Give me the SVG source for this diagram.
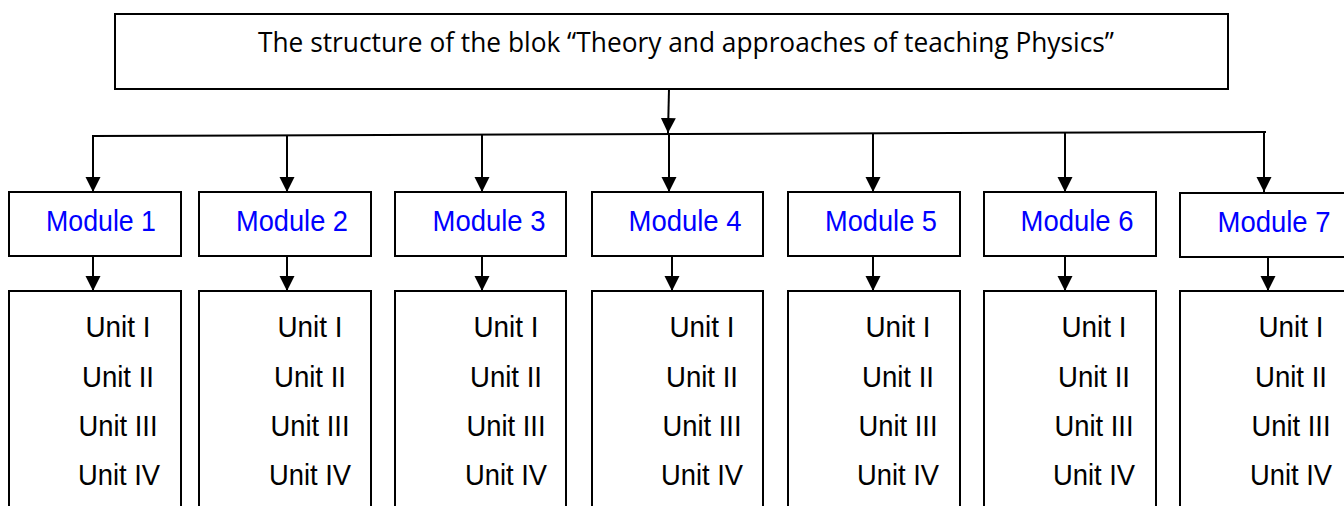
<svg xmlns="http://www.w3.org/2000/svg" width="1344" height="506" viewBox="0 0 1344 506">
<style>
.box{fill:#fff;stroke:#000;stroke-width:2}
.ln{fill:none;stroke:#000;stroke-width:2}
.arr{fill:none;stroke:#000;stroke-width:2;marker-end:url(#ah)}
.title{font-family:"Open Sans","Liberation Sans",sans-serif;font-size:28px;fill:#000}
.mod{font-family:"Liberation Sans",Arial,sans-serif;font-size:29px;fill:#0000ff;text-anchor:middle}
.unit{font-family:"Liberation Sans",Arial,sans-serif;font-size:29px;fill:#000;text-anchor:middle}
</style>
<defs>
<marker id="ah" viewBox="0 0 16 16" refX="15" refY="8" markerWidth="16" markerHeight="16" markerUnits="userSpaceOnUse" orient="auto">
<path d="M0,0.5 L15,8 L0,15.5 z" fill="#000"/>
</marker>
</defs>
<rect width="1344" height="506" fill="#fff"/>
<g id="title-node">
<rect class="box" x="115" y="14" width="1113" height="75"/>
<text class="title" x="258" y="52" textLength="856" lengthAdjust="spacingAndGlyphs">The structure of the blok “Theory and approaches of teaching Physics”</text>
</g>
<g id="connectors">
<line class="arr" x1="669" y1="89" x2="668" y2="133"/>
<line class="ln" x1="92" y1="136" x2="1266" y2="132"/>
<line class="arr" x1="93" y1="136" x2="93" y2="192"/>
<line class="arr" x1="287" y1="135" x2="287" y2="192"/>
<line class="arr" x1="482" y1="135" x2="482" y2="192"/>
<line class="arr" x1="669" y1="134" x2="669" y2="192"/>
<line class="arr" x1="873" y1="134" x2="873" y2="192"/>
<line class="arr" x1="1065" y1="133" x2="1065" y2="192"/>
<line class="arr" x1="1264" y1="132" x2="1264" y2="192"/>
<line class="arr" x1="93" y1="256" x2="93" y2="291"/>
<line class="arr" x1="287" y1="256" x2="287" y2="291"/>
<line class="arr" x1="482" y1="256" x2="482" y2="291"/>
<line class="arr" x1="672" y1="256" x2="672" y2="291"/>
<line class="arr" x1="873" y1="256" x2="873" y2="291"/>
<line class="arr" x1="1065" y1="256" x2="1065" y2="291"/>
<line class="arr" x1="1268" y1="257" x2="1268" y2="291"/>
</g>
<g id="module1">
<rect class="box" x="9" y="192" width="172" height="64"/>
<text class="mod" x="101" y="231" textLength="110" lengthAdjust="spacingAndGlyphs">Module 1</text>
</g>
<g id="module2">
<rect class="box" x="199" y="192" width="172" height="64"/>
<text class="mod" x="292" y="231" textLength="112" lengthAdjust="spacingAndGlyphs">Module 2</text>
</g>
<g id="module3">
<rect class="box" x="395" y="192" width="171" height="64"/>
<text class="mod" x="489" y="231" textLength="113" lengthAdjust="spacingAndGlyphs">Module 3</text>
</g>
<g id="module4">
<rect class="box" x="592" y="192" width="171" height="64"/>
<text class="mod" x="685" y="231" textLength="113" lengthAdjust="spacingAndGlyphs">Module 4</text>
</g>
<g id="module5">
<rect class="box" x="788" y="192" width="172" height="64"/>
<text class="mod" x="881" y="231" textLength="112" lengthAdjust="spacingAndGlyphs">Module 5</text>
</g>
<g id="module6">
<rect class="box" x="984" y="192" width="172" height="64"/>
<text class="mod" x="1077" y="231" textLength="113" lengthAdjust="spacingAndGlyphs">Module 6</text>
</g>
<g id="module7">
<rect class="box" x="1180" y="193" width="180" height="64"/>
<text class="mod" x="1274" y="232" textLength="113" lengthAdjust="spacingAndGlyphs">Module 7</text>
</g>
<g id="units1">
<rect class="box" x="9" y="291" width="172" height="230"/>
<text class="unit" x="118" y="337" textLength="65" lengthAdjust="spacingAndGlyphs">Unit I</text>
<text class="unit" x="118" y="387" textLength="72" lengthAdjust="spacingAndGlyphs">Unit II</text>
<text class="unit" x="118" y="436" textLength="79" lengthAdjust="spacingAndGlyphs">Unit III</text>
<text class="unit" x="119" y="485" textLength="82" lengthAdjust="spacingAndGlyphs">Unit IV</text>
</g>
<g id="units2">
<rect class="box" x="199" y="291" width="172" height="230"/>
<text class="unit" x="310" y="337" textLength="65" lengthAdjust="spacingAndGlyphs">Unit I</text>
<text class="unit" x="310" y="387" textLength="72" lengthAdjust="spacingAndGlyphs">Unit II</text>
<text class="unit" x="310" y="436" textLength="79" lengthAdjust="spacingAndGlyphs">Unit III</text>
<text class="unit" x="310" y="485" textLength="82" lengthAdjust="spacingAndGlyphs">Unit IV</text>
</g>
<g id="units3">
<rect class="box" x="395" y="291" width="171" height="230"/>
<text class="unit" x="506" y="337" textLength="65" lengthAdjust="spacingAndGlyphs">Unit I</text>
<text class="unit" x="506" y="387" textLength="72" lengthAdjust="spacingAndGlyphs">Unit II</text>
<text class="unit" x="506" y="436" textLength="79" lengthAdjust="spacingAndGlyphs">Unit III</text>
<text class="unit" x="506" y="485" textLength="82" lengthAdjust="spacingAndGlyphs">Unit IV</text>
</g>
<g id="units4">
<rect class="box" x="592" y="291" width="171" height="230"/>
<text class="unit" x="702" y="337" textLength="65" lengthAdjust="spacingAndGlyphs">Unit I</text>
<text class="unit" x="702" y="387" textLength="72" lengthAdjust="spacingAndGlyphs">Unit II</text>
<text class="unit" x="702" y="436" textLength="79" lengthAdjust="spacingAndGlyphs">Unit III</text>
<text class="unit" x="702" y="485" textLength="82" lengthAdjust="spacingAndGlyphs">Unit IV</text>
</g>
<g id="units5">
<rect class="box" x="788" y="291" width="172" height="230"/>
<text class="unit" x="898" y="337" textLength="65" lengthAdjust="spacingAndGlyphs">Unit I</text>
<text class="unit" x="898" y="387" textLength="72" lengthAdjust="spacingAndGlyphs">Unit II</text>
<text class="unit" x="898" y="436" textLength="79" lengthAdjust="spacingAndGlyphs">Unit III</text>
<text class="unit" x="898" y="485" textLength="82" lengthAdjust="spacingAndGlyphs">Unit IV</text>
</g>
<g id="units6">
<rect class="box" x="984" y="291" width="172" height="230"/>
<text class="unit" x="1094" y="337" textLength="65" lengthAdjust="spacingAndGlyphs">Unit I</text>
<text class="unit" x="1094" y="387" textLength="72" lengthAdjust="spacingAndGlyphs">Unit II</text>
<text class="unit" x="1094" y="436" textLength="79" lengthAdjust="spacingAndGlyphs">Unit III</text>
<text class="unit" x="1094" y="485" textLength="82" lengthAdjust="spacingAndGlyphs">Unit IV</text>
</g>
<g id="units7">
<rect class="box" x="1180" y="291" width="180" height="230"/>
<text class="unit" x="1291" y="337" textLength="65" lengthAdjust="spacingAndGlyphs">Unit I</text>
<text class="unit" x="1291" y="387" textLength="72" lengthAdjust="spacingAndGlyphs">Unit II</text>
<text class="unit" x="1291" y="436" textLength="79" lengthAdjust="spacingAndGlyphs">Unit III</text>
<text class="unit" x="1291" y="485" textLength="82" lengthAdjust="spacingAndGlyphs">Unit IV</text>
</g>
</svg>
